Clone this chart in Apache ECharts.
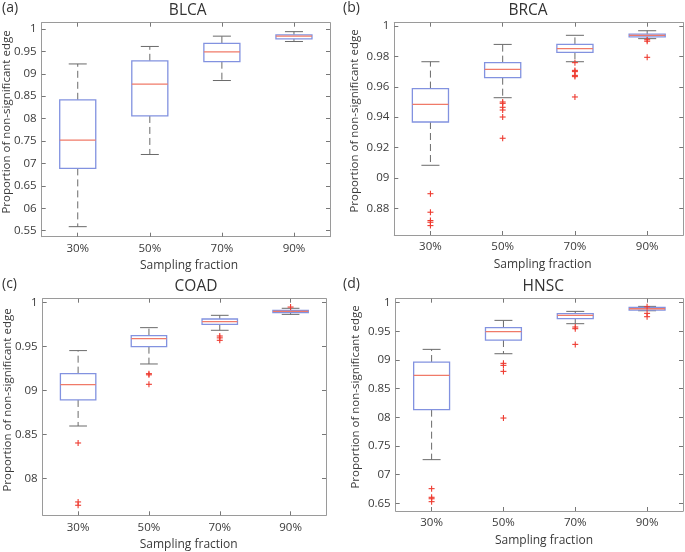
<!DOCTYPE html>
<html>
<head>
<meta charset="utf-8">
<script src="https://cdn.jsdelivr.net/npm/echarts@6/dist/echarts.min.js"></script>
<style>
html,body{margin:0;padding:0;background:#fff;}
#chart{width:685px;height:552px;}
</style>
</head>
<body>
<div id="chart"></div>
<script>
// ---- Data ----
const categories = ['30%', '50%', '70%', '90%'];
const panelNames = ['BLCA', 'BRCA', 'COAD', 'HNSC'];
const panelLetters = ['(a)', '(b)', '(c)', '(d)'];

// each box: [lower whisker, Q1, median, Q3, upper whisker]
const blcaBoxes = [
  [0.559, 0.689, 0.752, 0.842, 0.922],
  [0.720, 0.806, 0.877, 0.929, 0.961],
  [0.885, 0.927, 0.949, 0.968, 0.984],
  [0.972, 0.978, 0.984, 0.987, 0.994]
];
const blcaOutliers = [];

const brcaBoxes = [
  [0.9083, 0.9368, 0.9484, 0.9588, 0.9765],
  [0.9528, 0.9660, 0.9715, 0.9759, 0.9879],
  [0.9765, 0.9827, 0.9851, 0.9879, 0.9939],
  [0.9917, 0.9928, 0.9939, 0.9947, 0.9969]
];
const brcaOutliers = [
  [0, 0.8896], [0, 0.8774], [0, 0.8719], [0, 0.8708], [0, 0.8686],
  [1, 0.9500], [1, 0.9491], [1, 0.9465], [1, 0.9447], [1, 0.9401], [1, 0.9261],
  [2, 0.9759], [2, 0.9708], [2, 0.9700], [2, 0.9675], [2, 0.9667], [2, 0.9533],
  [3, 0.9910], [3, 0.9900], [3, 0.9794]
];

const coadBoxes = [
  [0.8598, 0.8894, 0.9068, 0.9193, 0.9455],
  [0.9303, 0.9500, 0.9591, 0.9625, 0.9716],
  [0.9686, 0.9754, 0.9784, 0.9814, 0.9856],
  [0.9867, 0.9886, 0.9900, 0.9913, 0.9936]
];
const coadOutliers = [
  [0, 0.8405], [0, 0.7735], [0, 0.7697],
  [1, 0.9193], [1, 0.9180], [1, 0.9072],
  [2, 0.9621], [2, 0.9600], [2, 0.9572],
  [3, 0.9950]
];

const hnscBoxes = [
  [0.7262, 0.8134, 0.8733, 0.8965, 0.9186],
  [0.9110, 0.9349, 0.9494, 0.9564, 0.9692],
  [0.9634, 0.9721, 0.9779, 0.9808, 0.9849],
  [0.9860, 0.9872, 0.9895, 0.9919, 0.9936]
];
const hnscOutliers = [
  [0, 0.6756], [0, 0.6605], [0, 0.6580], [0, 0.6529],
  [1, 0.8942], [1, 0.8907], [1, 0.8802], [1, 0.7988],
  [2, 0.9576], [2, 0.9547], [2, 0.9273],
  [3, 0.9930], [3, 0.9814], [3, 0.9756]
];

// y tick values and their printed labels
const blcaTicks = [0.55, 0.6, 0.65, 0.7, 0.75, 0.8, 0.85, 0.9, 0.95, 1];
const blcaTickLabels = ['0.55', '06', '0.65', '07', '0.75', '08', '0.85', '09', '0.95', '1'];
const brcaTicks = [0.88, 0.9, 0.92, 0.94, 0.96, 0.98, 1];
const brcaTickLabels = ['0.88', '09', '0.92', '0.94', '0.96', '0.98', '1'];
const coadTicks = [0.8, 0.85, 0.9, 0.95, 1];
const coadTickLabels = ['08', '0.85', '09', '0.95', '1'];
const hnscTicks = [0.65, 0.7, 0.75, 0.8, 0.85, 0.9, 0.95, 1];
const hnscTickLabels = ['0.65', '07', '0.75', '08', '0.85', '09', '0.95', '1'];

const yRanges = [[0.5366, 1.014], [0.8624, 1.0022], [0.7583, 1.0045], [0.6366, 1.007]];

// ---- Layout / style ----
const FONT = '"Open Sans", "Noto Sans", sans-serif';
const grids = [
  {left: 41.7, top: 22.7, width: 288.3, height: 214},
  {left: 394.3, top: 22.7, width: 289, height: 212.3},
  {left: 42.7, top: 298.7, width: 283.3, height: 216.6},
  {left: 395.7, top: 298.7, width: 287.3, height: 212.3}
];
const BOX_COLOR = '#8292e0';
const MED_COLOR = '#f07a68';
const WHISK_COLOR = '#6a6a6a';
const OUT_COLOR = '#ee3b30';
const AXIS_COLOR = '#9a9a9a';
const TEXT_COLOR = '#3a3a3a';

const panels = [
  {boxes: blcaBoxes, outliers: blcaOutliers, ticks: blcaTicks, labels: blcaTickLabels},
  {boxes: brcaBoxes, outliers: brcaOutliers, ticks: brcaTicks, labels: brcaTickLabels},
  {boxes: coadBoxes, outliers: coadOutliers, ticks: coadTicks, labels: coadTickLabels},
  {boxes: hnscBoxes, outliers: hnscOutliers, ticks: hnscTicks, labels: hnscTickLabels}
];

function labelFor(p, v) {
  for (let i = 0; i < p.ticks.length; i++) {
    if (Math.abs(p.ticks[i] - v) < 1e-6) return p.labels[i];
  }
  return '';
}

function renderBox(params, api) {
  const x = api.value(0);
  const lo = api.coord([x, api.value(1)]);
  const q1 = api.coord([x, api.value(2)]);
  const md = api.coord([x, api.value(3)]);
  const q3 = api.coord([x, api.value(4)]);
  const hi = api.coord([x, api.value(5)]);
  const band = api.size([1, 0])[0];
  const bw = band * 0.5, cw = band * 0.25;
  const cx = lo[0];
  const dashed = {stroke: WHISK_COLOR, lineWidth: 1, lineDash: [7, 4]};
  const solid = {stroke: WHISK_COLOR, lineWidth: 1};
  return {
    type: 'group',
    children: [
      {type: 'line', shape: {x1: cx, y1: q1[1], x2: cx, y2: lo[1]}, style: dashed},
      {type: 'line', shape: {x1: cx, y1: q3[1], x2: cx, y2: hi[1]}, style: dashed},
      {type: 'line', shape: {x1: cx - cw / 2, y1: lo[1], x2: cx + cw / 2, y2: lo[1]}, style: solid},
      {type: 'line', shape: {x1: cx - cw / 2, y1: hi[1], x2: cx + cw / 2, y2: hi[1]}, style: solid},
      {type: 'rect', shape: {x: cx - bw / 2, y: q3[1], width: bw, height: q1[1] - q3[1]},
        style: {fill: 'none', stroke: BOX_COLOR, lineWidth: 1.3}},
      {type: 'line', shape: {x1: cx - bw / 2, y1: md[1], x2: cx + bw / 2, y2: md[1]},
        style: {stroke: MED_COLOR, lineWidth: 1.3}}
    ]
  };
}

function renderPlus(params, api) {
  const p = api.coord([api.value(0), api.value(1)]);
  const s = 3;
  const st = {stroke: OUT_COLOR, lineWidth: 1.1};
  return {
    type: 'group',
    children: [
      {type: 'line', shape: {x1: p[0] - s, y1: p[1], x2: p[0] + s, y2: p[1]}, style: st},
      {type: 'line', shape: {x1: p[0], y1: p[1] - s, x2: p[0], y2: p[1] + s}, style: st}
    ]
  };
}

const xAxes = [], yAxes = [], series = [];
panels.forEach((p, i) => {
  xAxes.push({
    type: 'category', gridIndex: i, data: categories, position: 'bottom',
    axisLine: {show: true, lineStyle: {color: AXIS_COLOR}},
    axisTick: {show: true, inside: true, alignWithLabel: true, length: 4, lineStyle: {color: '#777'}},
    axisLabel: {color: TEXT_COLOR, fontFamily: FONT, fontSize: 11.5, margin: 6},
    splitLine: {show: false}
  });
  yAxes.push({
    type: 'value', gridIndex: i, position: 'left',
    min: yRanges[i][0], max: yRanges[i][1],
    axisLine: {show: true, lineStyle: {color: AXIS_COLOR}},
    axisTick: {show: true, inside: true, length: 4, lineStyle: {color: '#777'}, customValues: p.ticks},
    axisLabel: {color: TEXT_COLOR, fontFamily: FONT, fontSize: 11.5, margin: 5,
      customValues: p.ticks, formatter: (v) => labelFor(p, v)},
    splitLine: {show: false}
  });
  series.push({
    type: 'custom', xAxisIndex: i, yAxisIndex: i,
    renderItem: renderBox,
    encode: {x: 0, y: [1, 2, 3, 4, 5]},
    data: p.boxes.map((b, k) => [k].concat(b)),
    silent: true
  });
  series.push({
    type: 'custom', xAxisIndex: i, yAxisIndex: i,
    renderItem: renderPlus,
    encode: {x: 0, y: 1},
    data: p.outliers,
    silent: true
  });
});
// top and right frame axes
panels.forEach((p, i) => {
  xAxes.push({
    type: 'category', gridIndex: i, data: categories, position: 'top',
    axisLine: {show: true, lineStyle: {color: AXIS_COLOR}},
    axisTick: {show: true, inside: true, alignWithLabel: true, length: 4, lineStyle: {color: '#777'}},
    axisLabel: {show: false}, splitLine: {show: false}
  });
  yAxes.push({
    type: 'value', gridIndex: i, position: 'right',
    min: yRanges[i][0], max: yRanges[i][1],
    axisLine: {show: true, lineStyle: {color: AXIS_COLOR}},
    axisTick: {show: true, inside: true, length: 4, lineStyle: {color: '#777'}, customValues: p.ticks},
    axisLabel: {show: false, customValues: p.ticks}, splitLine: {show: false}
  });
});

// Text placement
const titlePos = [[187.7, 11], [528, 11], [196, 287], [543.3, 287]];
const letterPos = [[2, 8], [343, 8], [2, 284], [343, 284]];
const yNamePos = [[6.5, 122], [354.5, 121], [8, 400], [355.5, 397]];
const xNamePos = [[189, 265.7], [542.7, 265], [188.7, 544.3], [544, 541]];

const graphics = [];
panels.forEach((p, i) => {
  graphics.push({type: 'text', x: titlePos[i][0], y: titlePos[i][1], silent: true,
    style: {text: panelNames[i], font: '15.5px ' + FONT, fill: '#333', align: 'center', verticalAlign: 'middle',
      textAlign: 'center', textVerticalAlign: 'middle'}});
  graphics.push({type: 'text', x: letterPos[i][0], y: letterPos[i][1], silent: true,
    style: {text: panelLetters[i], font: '14px ' + FONT, fill: '#333', align: 'left', verticalAlign: 'middle',
      textAlign: 'left', textVerticalAlign: 'middle'}});
  graphics.push({type: 'text', x: yNamePos[i][0], y: yNamePos[i][1], rotation: Math.PI / 2, silent: true,
    style: {text: 'Proportion of non-significant edge', font: '11.5px ' + FONT, fill: TEXT_COLOR,
      align: 'center', verticalAlign: 'middle', textAlign: 'center', textVerticalAlign: 'middle'}});
  graphics.push({type: 'text', x: xNamePos[i][0], y: xNamePos[i][1], silent: true,
    style: {text: 'Sampling fraction', font: '12px ' + FONT, fill: TEXT_COLOR,
      align: 'center', verticalAlign: 'middle', textAlign: 'center', textVerticalAlign: 'middle'}});
});

const chart = echarts.init(document.getElementById('chart'), null, {renderer: 'canvas'});
chart.setOption({
  animation: false,
  backgroundColor: '#fff',
  grid: grids.map(g => Object.assign({containLabel: false}, g)),
  xAxis: xAxes,
  yAxis: yAxes,
  series: series,
  graphic: graphics
});
</script>
</body>
</html>
